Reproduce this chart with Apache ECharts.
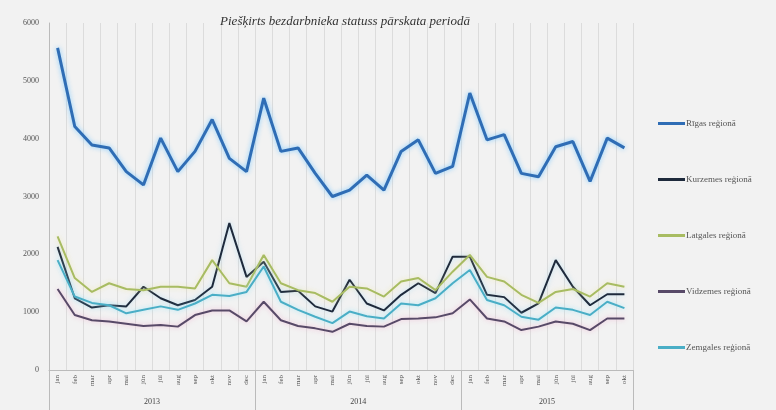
<!DOCTYPE html>
<html><head><meta charset="utf-8">
<script src="https://cdn.jsdelivr.net/npm/echarts@6/dist/echarts.min.js"></script>
<style>html,body{margin:0;padding:0;background:#f2f2f2}#c{width:776px;height:410px}</style>
</head><body><div id="c"></div>
<script>
const monthNames = ['jan','feb','mar','apr','mai','jūn','jūl','aug','sep','okt','nov','dec'];
const years = ['2013','2014','2015'];
const monthsPerYear = [12, 12, 10];
const riga = [5570,4210,3890,3840,3430,3200,4010,3430,3780,4330,3660,3430,
              4700,3780,3840,3400,3000,3110,3370,3110,3780,3980,3400,3520,
              4790,3980,4070,3400,3340,3860,3950,3260,4010,3840];
const kurzeme = [2130,1240,1080,1120,1100,1440,1240,1120,1210,1440,2540,1610,
                 1870,1350,1370,1100,1010,1560,1150,1030,1300,1500,1330,1960,
                 1960,1300,1260,990,1150,1900,1440,1120,1310,1310];
const latgale = [2310,1590,1350,1500,1400,1380,1440,1440,1410,1900,1500,1440,
                 1990,1500,1380,1330,1180,1440,1410,1270,1530,1590,1380,1700,
                 1990,1610,1530,1300,1160,1350,1400,1270,1500,1440];
const vidzeme = [1400,950,860,840,800,760,780,750,950,1030,1030,840,
                 1180,860,760,720,660,800,760,750,880,890,910,980,
                 1220,890,840,690,750,840,800,690,890,890];
const zemgale = [1900,1270,1160,1120,980,1040,1100,1040,1150,1300,1280,1350,
                 1790,1180,1040,920,810,1010,930,890,1150,1120,1240,1500,
                 1730,1210,1120,920,870,1080,1040,950,1180,1070];
const seriesNames = ['Rīgas reģionā','Kurzemes reģionā','Latgales reģionā','Vidzemes reģionā','Zemgales reģionā'];
const titleText = 'Piešķirts bezdarbnieka statuss pārskata periodā';

const categories = [];
years.forEach((y, yi) => { for (let m = 0; m < monthsPerYear[yi]; m++) categories.push(monthNames[m]); });
const total = categories.length;
const bounds = [0]; monthsPerYear.forEach(n => bounds.push(bounds[bounds.length-1] + n));
const mids = years.map((y, i) => (bounds[i] + bounds[i+1]) / 2);

const colors = ['#2f6db5','#1e2a3c','#a8bc62','#584a68','#4aaec6'];
const glows = ['rgba(120,200,255,0.9)','rgba(150,210,240,0.6)','rgba(240,230,150,0.6)','rgba(240,180,210,0.8)','rgba(150,230,250,0.8)'];
const datas = [riga, kurzeme, latgale, vidzeme, zemgale];

const chart = echarts.init(document.getElementById('c'));
chart.setOption({
  backgroundColor: '#f2f2f2',
  animation: false,
  title: { text: titleText, left: 340, top: 10, textAlign: 'center',
    textStyle: { fontFamily: 'Liberation Serif', fontStyle: 'italic', fontWeight: 'normal', fontSize: 13, color: '#333' } },
  legend: {
    orient: 'vertical', left: 653, top: 114, itemGap: 47, itemWidth: 27, itemHeight: 3, icon: 'rect',
    textStyle: { fontFamily: 'Liberation Serif', fontSize: 9, color: '#555', padding: [0,0,0,-4] },
    data: seriesNames
  },
  grid: { left: 49, right: 143, top: 23, bottom: 40 },
  xAxis: [{
    type: 'category', data: categories, boundaryGap: true,
    axisLine: { show: true, lineStyle: { color: '#bbbbbb' } },
    axisTick: { show: false },
    axisLabel: { rotate: 90, fontSize: 7, fontFamily: 'Liberation Serif', color: '#555', margin: 5, interval: 0 },
    splitLine: { show: true, interval: 0, lineStyle: { color: '#dcdcdc', width: 1 } }
  }, {
    type: 'value', min: 0, max: total, position: 'bottom',
    axisLine: { show: false },
    axisTick: { show: true, customValues: bounds, length: 40, lineStyle: { color: '#bbbbbb' } },
    axisLabel: { show: true, customValues: mids, margin: 28, fontSize: 8, fontFamily: 'Liberation Serif', color: '#444',
      formatter: v => years[mids.indexOf(v)] },
    splitLine: { show: false }
  }],
  yAxis: {
    type: 'value', min: 0, max: 6000, interval: 1000,
    axisLine: { show: true, lineStyle: { color: '#bbbbbb' } },
    axisTick: { show: false },
    axisLabel: { fontSize: 8, fontFamily: 'Liberation Serif', color: '#555', margin: 10, formatter: v => String(v) },
    splitLine: { show: false }
  },
  series: datas.map((d, i) => ({
    name: seriesNames[i], type: 'line', data: d, xAxisIndex: 0,
    symbol: 'none', smooth: false,
    itemStyle: { color: colors[i] },
    lineStyle: { color: colors[i], width: i === 0 ? 3 : 2, shadowColor: glows[i], shadowBlur: 5 }
  }))
});
</script></body></html>
